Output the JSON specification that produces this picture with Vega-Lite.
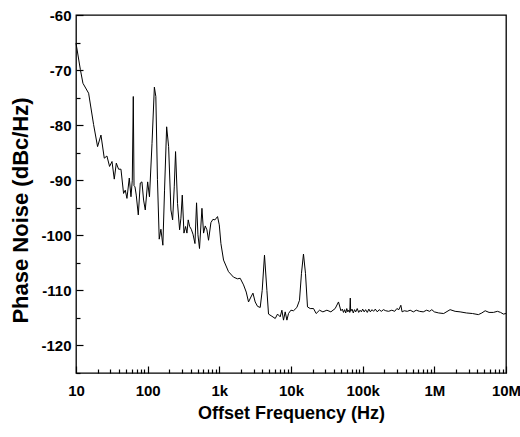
{
  "$schema": "https://vega.github.io/schema/vega-lite/v6.json",
  "width": 430,
  "height": 358,
  "autosize": {"type": "none"},
  "padding": {"left": 76, "top": 15, "right": 14, "bottom": 64},
  "background": "white",
  "config": {
    "view": {"stroke": "#000", "strokeWidth": 1.3}
  },
  "data": {
    "values": [
      {"f": 10, "pn": -65.1}, {"f": 11.5, "pn": -69.9}, {"f": 12.5, "pn": -72.4}, {"f": 15, "pn": -74.2},
      {"f": 17.6, "pn": -79.9}, {"f": 20, "pn": -83.9}, {"f": 22.3, "pn": -81.8}, {"f": 24.8, "pn": -86.0},
      {"f": 27, "pn": -85.6}, {"f": 29.4, "pn": -87.5}, {"f": 31.8, "pn": -86.6}, {"f": 34.2, "pn": -89.8},
      {"f": 36.5, "pn": -86.9}, {"f": 39.3, "pn": -88}, {"f": 42.4, "pn": -88}, {"f": 46.1, "pn": -92.4},
      {"f": 48.7, "pn": -91.8}, {"f": 51.4, "pn": -93.3}, {"f": 55.4, "pn": -89.6}, {"f": 58.5, "pn": -93},
      {"f": 61, "pn": -90}, {"f": 63, "pn": -74.8}, {"f": 64.5, "pn": -91}, {"f": 66.5, "pn": -91.2},
      {"f": 69.3, "pn": -92.7}, {"f": 74, "pn": -96.3}, {"f": 78.9, "pn": -90.5}, {"f": 83.2, "pn": -90.3},
      {"f": 87.7, "pn": -93.6}, {"f": 92.6, "pn": -95.4}, {"f": 100, "pn": -90.3}, {"f": 106, "pn": -93},
      {"f": 115, "pn": -83.3}, {"f": 124, "pn": -73.1}, {"f": 130, "pn": -74.8}, {"f": 137, "pn": -89.9},
      {"f": 145, "pn": -100.7}, {"f": 153, "pn": -98.9}, {"f": 163, "pn": -101.8}, {"f": 172, "pn": -91.8},
      {"f": 184, "pn": -80.3}, {"f": 196, "pn": -83.9}, {"f": 211, "pn": -95.4}, {"f": 223, "pn": -97.2},
      {"f": 235, "pn": -91.2}, {"f": 245, "pn": -84.8}, {"f": 261, "pn": -94.2}, {"f": 279, "pn": -99},
      {"f": 291, "pn": -96.9}, {"f": 304, "pn": -92.7}, {"f": 321, "pn": -99.6}, {"f": 338, "pn": -98.4},
      {"f": 353, "pn": -99.6}, {"f": 368, "pn": -97.2}, {"f": 385, "pn": -98.4}, {"f": 406, "pn": -98.9},
      {"f": 429, "pn": -99.8}, {"f": 457, "pn": -101.5}, {"f": 481, "pn": -94.1}, {"f": 503, "pn": -99.9},
      {"f": 529, "pn": -102.4}, {"f": 572, "pn": -95.1}, {"f": 603, "pn": -99.6}, {"f": 636, "pn": -98.3},
      {"f": 671, "pn": -99}, {"f": 707, "pn": -100.9}, {"f": 763, "pn": -97.7}, {"f": 814, "pn": -97.1},
      {"f": 868, "pn": -97.2}, {"f": 944, "pn": -96.6}, {"f": 998, "pn": -98.1}, {"f": 1052, "pn": -101.5},
      {"f": 1145, "pn": -104.5}, {"f": 1343, "pn": -106.6}, {"f": 1578, "pn": -107.6}, {"f": 1795, "pn": -107.9},
      {"f": 1955, "pn": -107.8}, {"f": 2177, "pn": -109}, {"f": 2373, "pn": -110.3}, {"f": 2555, "pn": -112.1},
      {"f": 2760, "pn": -111.2}, {"f": 2944, "pn": -110.5}, {"f": 3164, "pn": -112.1}, {"f": 3412, "pn": -112.9},
      {"f": 3718, "pn": -113.1}, {"f": 3963, "pn": -110}, {"f": 4266, "pn": -103.6}, {"f": 4610, "pn": -110},
      {"f": 4856, "pn": -114.3}, {"f": 5417, "pn": -114.7}, {"f": 6026, "pn": -115.1}, {"f": 6490, "pn": -114.3},
      {"f": 7068, "pn": -114.8}, {"f": 7460, "pn": -113.6}, {"f": 7860, "pn": -115.4}, {"f": 8300, "pn": -113.9},
      {"f": 8770, "pn": -115.4}, {"f": 9230, "pn": -114.2}, {"f": 9970, "pn": -113.6}, {"f": 10850, "pn": -113.7},
      {"f": 12080, "pn": -113.1}, {"f": 13140, "pn": -111.8}, {"f": 14000, "pn": -106.9}, {"f": 14930, "pn": -103.4},
      {"f": 15920, "pn": -106.9}, {"f": 16990, "pn": -113}, {"f": 18530, "pn": -113.3}, {"f": 20620, "pn": -113.3},
      {"f": 22450, "pn": -114.2}, {"f": 24990, "pn": -113.6}, {"f": 27860, "pn": -113.9}, {"f": 31670, "pn": -113.6},
      {"f": 35990, "pn": -113.9}, {"f": 41330, "pn": -113.3}, {"f": 46000, "pn": -112.1}, {"f": 49700, "pn": -113.7},
      {"f": 52000, "pn": -113.4}, {"f": 54000, "pn": -114.0}, {"f": 56000, "pn": -113.5}, {"f": 58000, "pn": -114.1},
      {"f": 60000, "pn": -113.3}, {"f": 62000, "pn": -113.9}, {"f": 64000, "pn": -113.6}, {"f": 66000, "pn": -114.0},
      {"f": 67200, "pn": -111.4}, {"f": 68000, "pn": -113.8}, {"f": 71000, "pn": -113.4}, {"f": 74000, "pn": -114.1},
      {"f": 77000, "pn": -113.5}, {"f": 80000, "pn": -113.9}, {"f": 84000, "pn": -113.3}, {"f": 88000, "pn": -114.0},
      {"f": 92000, "pn": -113.6}, {"f": 96000, "pn": -113.9}, {"f": 100000, "pn": -113.4}, {"f": 105000, "pn": -113.9},
      {"f": 110000, "pn": -113.5}, {"f": 116000, "pn": -114.0}, {"f": 122000, "pn": -113.4}, {"f": 128000, "pn": -113.9},
      {"f": 135000, "pn": -113.5}, {"f": 142000, "pn": -113.8}, {"f": 150000, "pn": -113.4}, {"f": 160000, "pn": -113.9},
      {"f": 170000, "pn": -113.5}, {"f": 182000, "pn": -113.8}, {"f": 195000, "pn": -113.5}, {"f": 210000, "pn": -113.7},
      {"f": 230000, "pn": -113.8}, {"f": 255000, "pn": -113.6}, {"f": 280000, "pn": -113.8}, {"f": 300000, "pn": -113.3},
      {"f": 320000, "pn": -113.5}, {"f": 341000, "pn": -112.7}, {"f": 355000, "pn": -113.9}, {"f": 380000, "pn": -113.7},
      {"f": 420000, "pn": -113.8}, {"f": 460000, "pn": -113.6}, {"f": 510000, "pn": -113.9}, {"f": 560000, "pn": -113.6},
      {"f": 620000, "pn": -113.8}, {"f": 700000, "pn": -113.9}, {"f": 780000, "pn": -113.6}, {"f": 860000, "pn": -113.8},
      {"f": 922000, "pn": -113.5}, {"f": 1000000, "pn": -113.9}, {"f": 1150000, "pn": -114.1}, {"f": 1350000, "pn": -114.2},
      {"f": 1660000, "pn": -113.5}, {"f": 1950000, "pn": -113.8}, {"f": 2290000, "pn": -113.9}, {"f": 2800000, "pn": -114.1},
      {"f": 3400000, "pn": -114.2}, {"f": 4120000, "pn": -114.4}, {"f": 4600000, "pn": -114.1}, {"f": 5120000, "pn": -113.7},
      {"f": 5800000, "pn": -114.0}, {"f": 6670000, "pn": -114.0}, {"f": 7600000, "pn": -113.8}, {"f": 8400000, "pn": -114.0},
      {"f": 9200000, "pn": -114.3}, {"f": 10000000, "pn": -114.2}
    ]
  },
  "layer": [
    {
      "mark": {"type": "line", "color": "#000", "strokeWidth": 1, "interpolate": "linear"},
      "encoding": {
        "x": {
          "field": "f", "type": "quantitative",
          "scale": {"type": "log", "domain": [10, 10000000], "nice": false},
          "axis": {
            "orient": "bottom", "offset": -7, "zindex": 1,
            "grid": false, "domain": false,
            "tickSize": 7, "tickColor": "#000", "tickWidth": 1.2,
            "title": "Offset Frequency (Hz)",
            "titleFont": "Liberation Sans", "titleFontWeight": "bold", "titleFontSize": 18, "titleColor": "#000", "titlePadding": 6,
            "labelFont": "Liberation Sans", "labelFontWeight": "bold", "labelFontSize": 15, "labelColor": "#000",
            "values": [10,100,1000,10000,100000,1000000,10000000],
            "labelExpr": "datum.value == 10 ? '10' : datum.value == 100 ? '100' : datum.value == 1000 ? '1k' : datum.value == 10000 ? '10k' : datum.value == 100000 ? '100k' : datum.value == 1000000 ? '1M' : '10M'",
            "labelOverlap": false, "labelFlush": false, "labelPadding": 10
          }
        },
        "y": {
          "field": "pn", "type": "quantitative",
          "scale": {"domain": [-125, -60], "nice": false, "zero": false},
          "axis": {
            "orient": "left", "offset": -7, "zindex": 1,
            "grid": false, "domain": false,
            "tickSize": 7, "tickColor": "#000", "tickWidth": 1.2,
            "title": "Phase Noise (dBc/Hz)",
            "titleFont": "Liberation Sans", "titleFontWeight": "bold", "titleFontSize": 22, "titleColor": "#000", "titlePadding": 8, "titleY": 195,
            "labelFont": "Liberation Sans", "labelFontWeight": "bold", "labelFontSize": 15, "labelColor": "#000",
            "values": [-120,-110,-100,-90,-80,-70,-60],
            "labelExpr": "'' + datum.value",
            "labelOverlap": false, "labelFlush": false, "labelPadding": 5
          }
        }
      }
    },
    {
      "mark": {"type": "line", "color": "#000", "strokeWidth": 1, "strokeOpacity": 0},
      "encoding": {
        "x": {
          "field": "f", "type": "quantitative",
          "axis": {
            "orient": "bottom", "offset": -4, "zindex": 1,
            "grid": false, "domain": false, "labels": false, "title": null,
            "tickSize": 4, "tickColor": "#000", "tickWidth": 1.2,
            "values": [20,30,40,50,60,70,80,90,200,300,400,500,600,700,800,900,2000,3000,4000,5000,6000,7000,8000,9000,20000,30000,40000,50000,60000,70000,80000,90000,200000,300000,400000,500000,600000,700000,800000,900000,2000000,3000000,4000000,5000000,6000000,7000000,8000000,9000000]
          }
        },
        "y": {
          "field": "pn", "type": "quantitative",
          "axis": {
            "orient": "left", "offset": -4, "zindex": 1,
            "grid": false, "domain": false, "labels": false, "title": null,
            "tickSize": 4, "tickColor": "#000", "tickWidth": 1.2,
            "values": [-125,-115,-105,-95,-85,-75,-65]
          }
        }
      }
    }
  ],
  "resolve": {"scale": {"x": "shared", "y": "shared"}, "axis": {"x": "independent", "y": "independent"}}
}
